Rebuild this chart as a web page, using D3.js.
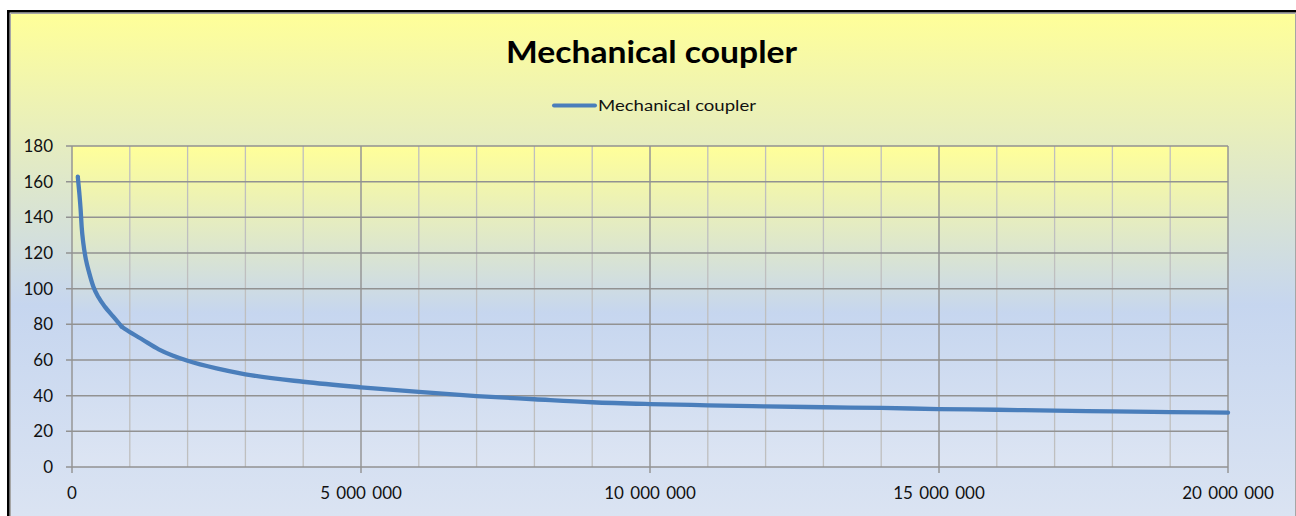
<!DOCTYPE html>
<html>
<head>
<meta charset="utf-8">
<script src="https://cdn.jsdelivr.net/npm/d3@7"></script>
<style>
  body { margin: 0; background: #fff; }
  svg { display: block; font-family: Lato, 'Open Sans', sans-serif; }
</style>
</head>
<body>
<div id="result"></div>
<script>
const width = 1296;
const height = 516;
const plot = { left: 72, top: 146, right: 1228, bottom: 467 };

// Values
const chartTitle = 'Mechanical coupler';
const seriesName = 'Mechanical coupler';
const xValues = [100000, 127000, 150000, 167000, 196000, 242000, 300000, 370000, 456000, 571000,
    715000, 860000, 946000, 1230000, 1500000, 1750000, 2000000, 2500000, 3000000, 4000000,
    5000000, 6000000, 7000000, 8000000, 9000000, 10000000, 11000000, 12000000, 13000000,
    14000000, 15000000, 16000000, 17000000, 18000000, 19000000, 20000000];
const yValues = [162.8, 153.5, 144.1, 134.8, 125.4, 116.1, 108.6, 101.1, 95.3, 89.8,
    84.3, 78.7, 76.8, 71.2, 66, 62.4, 59.6, 55.3, 52, 47.8,
    44.7, 42.1, 39.8, 38, 36.3, 35.3, 34.6, 34, 33.5,
    33.1, 32.5, 32.1, 31.6, 31.2, 30.8, 30.5];
const yTicks = [0, 20, 40, 60, 80, 100, 120, 140, 160, 180];
const xMajorTicks = [0, 5000000, 10000000, 15000000, 20000000];
const xMinorTicks = d3.range(0, 20000001, 1000000);

const svg = d3.select('#result')
    .append('svg')
    .attr('width', width)
    .attr('height', height);

const defs = svg.append('defs');

// chart area gradient
const chartGrad = defs.append('linearGradient')
    .attr('id', 'chartGrad')
    .attr('x1', 0).attr('y1', 0).attr('x2', 0).attr('y2', 1);
chartGrad.append('stop').attr('offset', '0%').attr('stop-color', '#ffff99');
chartGrad.append('stop').attr('offset', '52%').attr('stop-color', '#c6d6ef');
chartGrad.append('stop').attr('offset', '100%').attr('stop-color', '#e0e7f3');

// plot area gradient
const plotGrad = defs.append('linearGradient')
    .attr('id', 'plotGrad')
    .attr('x1', 0).attr('y1', 0).attr('x2', 0).attr('y2', 1);
plotGrad.append('stop').attr('offset', '0%').attr('stop-color', '#ffff99');
plotGrad.append('stop').attr('offset', '52%').attr('stop-color', '#c6d6ef');
plotGrad.append('stop').attr('offset', '100%').attr('stop-color', '#dde5f3');

svg.append('rect')
    .attr('x', 11).attr('y', 14)
    .attr('width', 1284).attr('height', 560)
    .attr('fill', 'url(#chartGrad)');

// gray inner border
svg.append('path')
    .attr('d', `M10.5,${height} V13.5 H1295.5 V${height}`)
    .attr('fill', 'none')
    .attr('stroke', '#a6a6a6')
    .attr('stroke-width', 1);

// black outer border
svg.append('path')
    .attr('d', `M8.3,${height} V11.3 H${width}`)
    .attr('fill', 'none')
    .attr('stroke', '#000')
    .attr('stroke-width', 2.6);

const xScale = d3.scaleLinear()
    .domain([0, 20000000])
    .range([plot.left, plot.right]);

const yScale = d3.scaleLinear()
    .domain([0, 180])
    .range([plot.bottom, plot.top]);

const g = svg.append('g');

g.append('rect')
    .attr('x', plot.left).attr('y', plot.top)
    .attr('width', plot.right - plot.left)
    .attr('height', plot.bottom - plot.top)
    .attr('fill', 'url(#plotGrad)');

// vertical minor gridlines
g.append('g')
    .selectAll('line')
    .data(xMinorTicks.filter(d => !xMajorTicks.includes(d)))
    .enter()
    .append('line')
        .attr('x1', d => xScale(d)).attr('x2', d => xScale(d))
        .attr('y1', plot.top).attr('y2', plot.bottom)
        .attr('stroke', '#bfbfbf')
        .attr('stroke-width', 1.3);

// vertical major gridlines + ticks
g.append('g')
    .selectAll('line')
    .data(xMajorTicks)
    .enter()
    .append('line')
        .attr('x1', d => xScale(d)).attr('x2', d => xScale(d))
        .attr('y1', plot.top).attr('y2', plot.bottom + 6)
        .attr('stroke', '#969696')
        .attr('stroke-width', 1.5);

// horizontal gridlines + ticks
g.append('g')
    .selectAll('line')
    .data(yTicks)
    .enter()
    .append('line')
        .attr('x1', plot.left - 6).attr('x2', plot.right)
        .attr('y1', d => yScale(d)).attr('y2', d => yScale(d))
        .attr('stroke', '#929292')
        .attr('stroke-width', 1.5);

// y labels
g.append('g')
    .selectAll('text')
    .data(yTicks)
    .enter()
    .append('text')
        .attr('x', 53)
        .attr('y', d => yScale(d))
        .attr('dy', '0.36em')
        .attr('text-anchor', 'end')
        .attr('font-size', 17)
        .attr('fill', '#111')
        .text(d => d);

// x labels with space thousands separator
const fmt = d3.formatLocale({ decimal: ',', thousands: ' ', grouping: [3], currency: ['', ''] }).format(',');

g.append('g')
    .selectAll('text')
    .data(xMajorTicks)
    .enter()
    .append('text')
        .attr('x', d => xScale(d))
        .attr('y', 499)
        .attr('text-anchor', 'middle')
        .attr('font-size', 17)
        .attr('word-spacing', 2)
        .attr('fill', '#111')
        .text(d => fmt(d));

// the series line, drawn in two smooth pieces that meet at the kink
const data = d3.zip(xValues, yValues);
const kink = xValues.indexOf(860000);
const line = d3.line()
    .curve(d3.curveMonotoneX)
    .x(d => xScale(d[0]))
    .y(d => yScale(d[1]));

[data.slice(0, kink + 1), data.slice(kink)].forEach(part => {
    g.append('path')
        .datum(part)
        .attr('fill', 'none')
        .attr('stroke', '#4a7ebb')
        .attr('stroke-width', 4.3)
        .attr('stroke-linejoin', 'round')
        .attr('stroke-linecap', 'round')
        .attr('d', line);
});

// title
svg.append('text')
    .attr('x', 506)
    .attr('y', 63)
    .attr('font-size', 31)
    .attr('font-weight', 'bold')
    .attr('textLength', 291)
    .attr('lengthAdjust', 'spacingAndGlyphs')
    .attr('fill', '#000')
    .text(chartTitle);

// legend
svg.append('line')
    .attr('x1', 554).attr('x2', 595)
    .attr('y1', 105.5).attr('y2', 105.5)
    .attr('stroke', '#4a7ebb')
    .attr('stroke-width', 4)
    .attr('stroke-linecap', 'round');

svg.append('text')
    .attr('x', 598)
    .attr('y', 111)
    .attr('font-size', 15.5)
    .attr('textLength', 158)
    .attr('lengthAdjust', 'spacingAndGlyphs')
    .attr('fill', '#111')
    .text(seriesName);
</script>
</body>
</html>
